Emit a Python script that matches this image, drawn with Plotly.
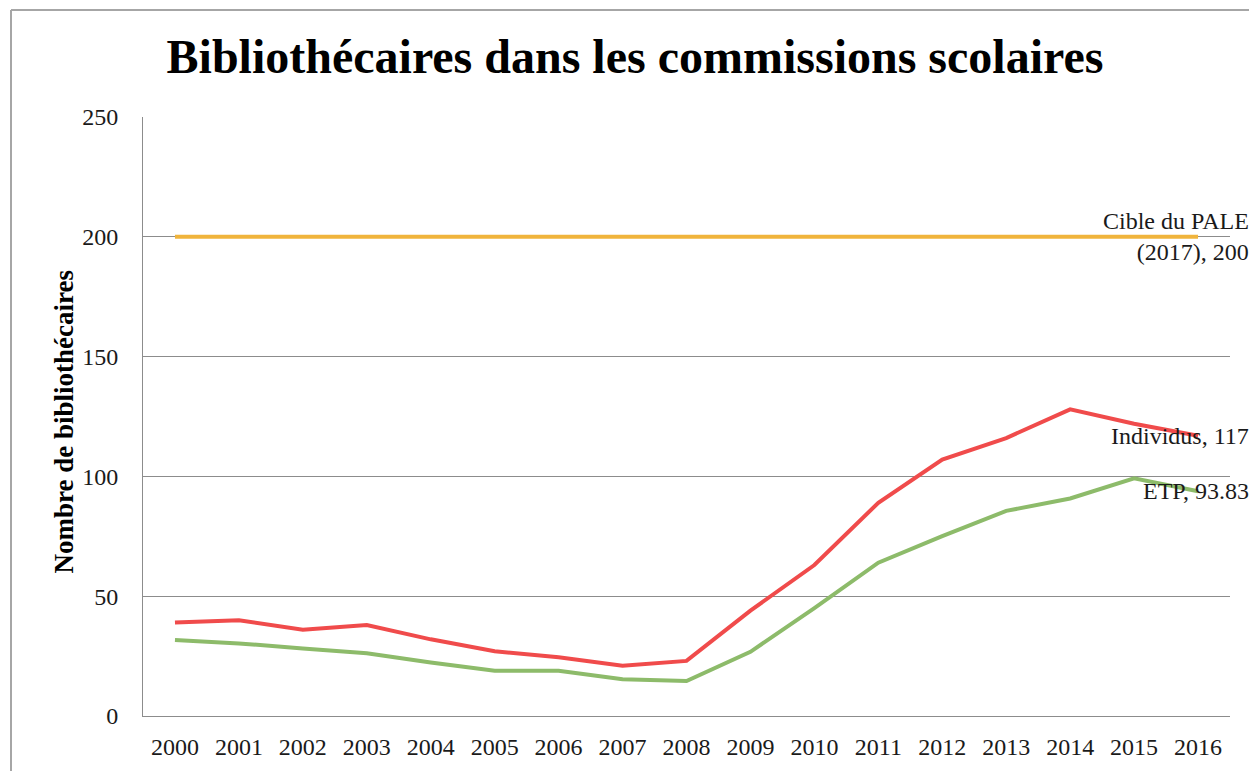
import plotly.graph_objects as go

years = [str(y) for y in range(2000, 2017)]
individus = [39, 40, 36, 38, 32, 27, 24.5, 21, 23, 44, 63, 89, 107, 116, 128, 122, 117]
etp = [31.7, 30.3, 28.2, 26.2, 22.3, 18.9, 18.9, 15.3, 14.6, 26.8, 45, 64, 75.1, 85.6, 90.8, 99.2, 93.83]
cible = [200] * len(years)

FONT = "Liberation Serif"
GRID = "#8C8C8C"

# page body has an 8px margin, so the figure is 8px smaller and everything is offset
W, H = 1249, 763
L, R, T, B = 135, 27, 109, 55
PW, PH = W - L - R, H - T - B

fig = go.Figure()
fig.add_trace(go.Scatter(x=years, y=cible, mode="lines", name="Cible du PALE (2017)",
                         line=dict(color="#F0B43C", width=4)))
fig.add_trace(go.Scatter(x=years, y=individus, mode="lines", name="Individus",
                         line=dict(color="#F04B4B", width=4)))
fig.add_trace(go.Scatter(x=years, y=etp, mode="lines", name="ETP",
                         line=dict(color="#8DBB6A", width=4)))

last = len(years) - 1
labels = [
    ("Cible du PALE<br>(2017), 200", cible[-1], 53),
    ("Individus, 117", individus[-1], 53),
    ("ETP, 93.83", etp[-1], 53),
]
for text, yv, xs in labels:
    fig.add_annotation(x=last, y=yv, xref="x", yref="y", text=text, showarrow=False,
                       xanchor="right", yanchor="middle", xshift=xs, align="right",
                       font=dict(family=FONT, size=24, color="#1a1a1a"))

# y axis title as annotation
fig.add_annotation(x=(63.5 - 8 - L) / PW, y=(T + PH - (422 - 8)) / PH, xref="paper", yref="paper",
                   text="<b>Nombre de bibliothécaires</b>", textangle=-90, showarrow=False,
                   xanchor="center", yanchor="middle",
                   font=dict(family=FONT, size=27, color="#000000"))

# outer frame
fx = (3 - L) / PW
fy = (T + PH - 2) / PH
fig.add_shape(type="line", xref="paper", yref="paper", x0=fx, x1=fx, y0=fy, y1=-0.2,
              line=dict(color="#A6A6A6", width=2))
fig.add_shape(type="line", xref="paper", yref="paper", x0=fx, x1=1.1, y0=fy, y1=fy,
              line=dict(color="#A6A6A6", width=2))

fig.update_layout(
    width=W, height=H,
    margin=dict(l=L, r=R, t=T, b=B, autoexpand=False),
    paper_bgcolor="white", plot_bgcolor="white",
    showlegend=False,
    font=dict(family=FONT, size=24, color="#1a1a1a"),
    title=dict(text="<b>Bibliothécaires dans les commissions scolaires</b>",
               xref="container", yref="container",
               x=627 / W, xanchor="center", y=1 - 48 / H, yanchor="middle",
               font=dict(family=FONT, size=48, color="#000000")),
    xaxis=dict(type="category", showgrid=False, showline=True, linecolor=GRID, linewidth=1,
               ticks="", tickfont=dict(family=FONT, size=24), ticklabelstandoff=9,
               automargin=False, range=[-0.5, 16.5]),
    yaxis=dict(range=[0, 250], dtick=50, showgrid=True, gridcolor=GRID, gridwidth=1,
               showline=True, linecolor=GRID, linewidth=1, zeroline=False, automargin=False,
               ticks="", tickfont=dict(family=FONT, size=24), ticklabelstandoff=19),
)

fig.write_html("out.html")
